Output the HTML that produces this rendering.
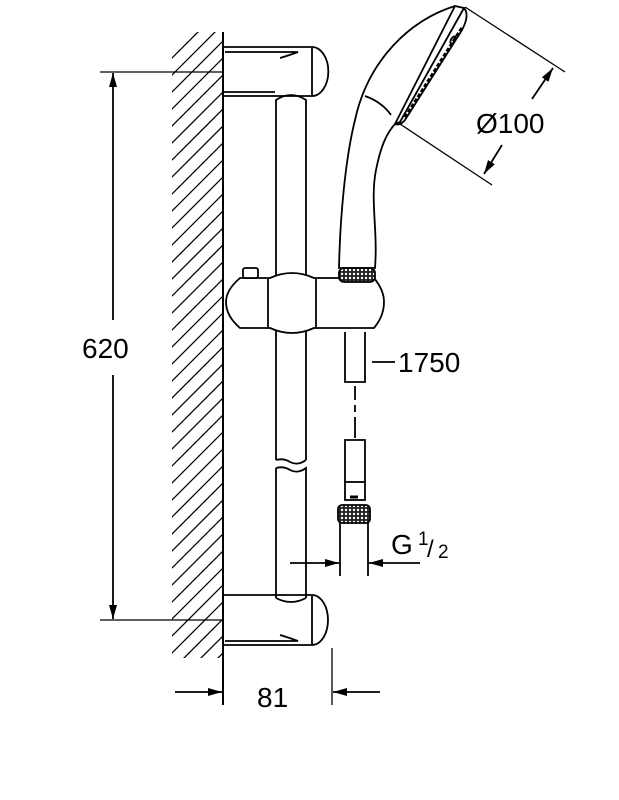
<!DOCTYPE html>
<html><head><style>body{margin:0;background:#fff}svg{display:block}</style></head><body>
<svg width="619" height="800" viewBox="0 0 619 800" xmlns="http://www.w3.org/2000/svg">
<defs>
<clipPath id="hc"><rect x="172" y="32" width="51" height="626"/></clipPath>
<pattern id="kn" width="4" height="4" patternUnits="userSpaceOnUse"><rect width="4" height="4" fill="#222"/><circle cx="2" cy="2" r="1.2" fill="#fff"/></pattern>
<marker id="ar" viewBox="0 0 14 8" refX="14" refY="4" markerWidth="14" markerHeight="8" orient="auto" markerUnits="userSpaceOnUse"><path d="M0,0L14,4L0,8z" fill="#000"/></marker>
</defs>
<g stroke="#000" fill="none" stroke-width="1.8">
<g clip-path="url(#hc)" stroke-width="1.3">
<path d="M150,80L250,-20M150,97L250,-3M150,114L250,14M150,131L250,31M150,148L250,48M150,165L250,65M150,182L250,82M150,199L250,99M150,216L250,116M150,233L250,133M150,250L250,150M150,267L250,167M150,284L250,184M150,301L250,201M150,318L250,218M150,335L250,235M150,352L250,252M150,369L250,269M150,386L250,286M150,403L250,303M150,420L250,320M150,437L250,337M150,454L250,354M150,471L250,371M150,488L250,388M150,505L250,405M150,522L250,422M150,539L250,439M150,556L250,456M150,573L250,473M150,590L250,490M150,607L250,507M150,624L250,524M150,641L250,541M150,658L250,558M150,675L250,575M150,692L250,592M150,709L250,609M150,726L250,626M150,743L250,643"/>
</g>
<line x1="223" y1="32" x2="223" y2="705" stroke-width="2"/>
<path d="M223,47H312A16,24 0 0 1 312,96H223"/>
<path d="M225,52H298Q290,55 280,58"/>
<line x1="312" y1="48" x2="312" y2="96"/>
<line x1="223" y1="92" x2="275" y2="92"/>
<path d="M276,460V100Q291,90 306,100V460"/>
<path d="M276,460Q284,458 290,462Q298,466 306,460"/>
<path d="M276,468Q284,466 290,470Q298,474 306,468V598"/>
<line x1="276" y1="468" x2="276" y2="598"/>
<path d="M223,595H312A16,25 0 0 1 312,645H223"/>
<path d="M276,598Q291,606 306,598"/>
<line x1="312" y1="596" x2="312" y2="645"/>
<path d="M225,641H298Q290,638 280,635"/>
<path d="M240,278H270Q292,268 314,278H374Q384,290 384,302Q384,316 374,328H314Q292,338 270,328H240Q226,316 226,302Q226,290 240,278Z" fill="#fff"/>
<line x1="268" y1="279" x2="268" y2="327"/>
<line x1="316" y1="279" x2="316" y2="327"/>
<rect x="243" y="268" width="15" height="10" rx="2" fill="#fff"/>
<path d="M455,6C410,20 368,60 355,120C345,160 340,220 339,268H375C378,230 370,200 376,170C380,150 385,135 395,124" fill="#fff"/>
<path d="M455,6L464,8L400,122L395,124L455,6Z" fill="#fff"/>
<path d="M464,8Q470,15 462,30L405,120Q400,126 395,124"/>
<path d="M462,28L405,118" stroke-width="3.5" stroke-dasharray="4,2"/>
<ellipse cx="453" cy="40" rx="2" ry="4" transform="rotate(30 453 40)"/>
<path d="M365,96Q382,102 391,115"/>
<rect x="339" y="268" width="36" height="14" rx="5" fill="url(#kn)"/>
<path d="M345,332V382H365V332"/>
<line x1="355" y1="386" x2="355" y2="400"/><line x1="355" y1="405" x2="355" y2="412"/><line x1="355" y1="417" x2="355" y2="438"/>
<path d="M345,482V440H365V482"/>
<rect x="345" y="482" width="20" height="18"/>
<rect x="338" y="505" width="32" height="18" rx="4" fill="url(#kn)"/>
<line x1="350" y1="497" x2="358" y2="497" stroke-width="3"/>
<line x1="340" y1="523" x2="340" y2="576"/><line x1="368" y1="523" x2="368" y2="576"/>
<line x1="290" y1="563" x2="339" y2="563" marker-end="url(#ar)"/>
<line x1="420" y1="563" x2="369" y2="563" marker-end="url(#ar)"/>
<line x1="372" y1="362" x2="395" y2="362"/>
<line x1="100" y1="72" x2="223" y2="72" stroke-width="1.3"/>
<line x1="100" y1="620" x2="223" y2="620" stroke-width="1.3"/>
<line x1="113" y1="320" x2="113" y2="73" marker-end="url(#ar)"/>
<line x1="113" y1="375" x2="113" y2="619" marker-end="url(#ar)"/>
<line x1="332" y1="648" x2="332" y2="705" stroke-width="1.3"/>
<line x1="175" y1="692" x2="222" y2="692" marker-end="url(#ar)"/>
<line x1="380" y1="692" x2="333" y2="692" marker-end="url(#ar)"/>
<line x1="465" y1="7" x2="565" y2="72" stroke-width="1.3"/>
<line x1="400" y1="124" x2="492" y2="185" stroke-width="1.3"/>
<line x1="532" y1="99" x2="553" y2="68" marker-end="url(#ar)"/>
<line x1="502" y1="145" x2="484" y2="174" marker-end="url(#ar)"/>
</g>
<g font-family="Liberation Sans, sans-serif" font-size="28" fill="#000">
<text x="82" y="358">620</text>
<text x="398" y="372">1750</text>
<text x="476" y="133">Ø100</text>
<text x="257" y="707">81</text>
<text x="391" y="554">G</text>
<text x="418" y="545" font-size="19">1</text>
<text x="427" y="557" font-size="24">/</text>
<text x="438" y="558" font-size="19">2</text>
</g>
</svg>
</body></html>
